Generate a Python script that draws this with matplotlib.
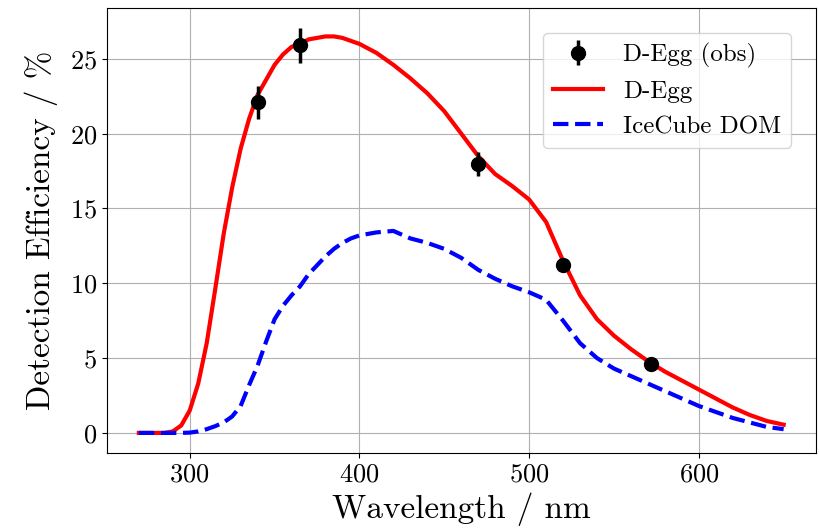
import numpy as np
import matplotlib
matplotlib.use("Agg")
import matplotlib.pyplot as plt

# Computer Modern look (matplotlib ships cmr10)
plt.rcParams['font.family'] = ['cmr10', 'DejaVu Sans']
plt.rcParams['mathtext.fontset'] = 'cm'
plt.rcParams['axes.formatter.use_mathtext'] = True

# D-Egg simulated efficiency, 5 nm steps
wl = [270, 275, 280, 285, 290, 295, 300, 305, 310, 315, 320, 325, 330, 335,
      340, 345, 350, 355, 360, 365, 370, 375, 380, 385, 390, 395, 400, 410,
      420, 430, 440, 450, 460, 470, 480, 490, 500, 510, 520, 530, 540, 550,
      560, 570, 580, 590, 600, 610, 620, 630, 640, 650]
degg = [0.0, 0.0, 0.0, 0.0, 0.1, 0.5, 1.5, 3.3, 6.0, 9.6, 13.3, 16.4, 19.0, 21.0,
        22.6, 23.6, 24.6, 25.3, 25.8, 26.0, 26.3, 26.4, 26.5, 26.5, 26.4, 26.2, 26.0, 25.4,
        24.6, 23.7, 22.7, 21.5, 20.0, 18.5, 17.3, 16.5, 15.6, 14.1, 11.5, 9.2, 7.6, 6.5,
        5.6, 4.8, 4.1, 3.5, 2.9, 2.3, 1.7, 1.2, 0.8, 0.55]
icecube = [0.0, 0.0, 0.0, 0.0, 0.0, 0.0, 0.02, 0.1, 0.25, 0.45, 0.7, 1.1, 1.8, 3.2,
           4.5, 6.1, 7.6, 8.5, 9.2, 9.8, 10.6, 11.2, 11.8, 12.3, 12.7, 13.0, 13.2, 13.4,
           13.5, 13.0, 12.7, 12.3, 11.7, 10.9, 10.3, 9.8, 9.4, 8.9, 7.5, 6.0, 5.0, 4.3,
           3.8, 3.3, 2.8, 2.3, 1.8, 1.4, 1.0, 0.7, 0.4, 0.25]

# measured points
obs_wl = [340, 365, 470, 520, 572]
obs_eff = [22.1, 25.9, 18.0, 11.2, 4.6]
obs_err = [1.1, 1.15, 0.8, 0.3, 0.2]

fig, ax = plt.subplots(figsize=(8.2, 5.3), dpi=100)

h_obs = ax.errorbar(obs_wl, obs_eff, yerr=obs_err, fmt='o', color='black', ms=10,
                    elinewidth=2.5, label='D-Egg (obs)', zorder=4)
h_degg, = ax.plot(wl, degg, color='red', lw=3, label='D-Egg', zorder=3)
h_ic, = ax.plot(wl, icecube, color='blue', lw=3, ls='--', label='IceCube DOM', zorder=3)

ax.set_xlabel('Wavelength / nm', fontsize=24)
ax.set_ylabel('Detection Efficiency / %', fontsize=24, labelpad=8)
ax.tick_params(labelsize=19)
ax.set_xticks([300, 400, 500, 600])
ax.grid(True)
ax.legend(handles=[h_obs, h_degg, h_ic], loc='upper right', fontsize=18,
          borderaxespad=1.0)

fig.subplots_adjust(left=0.13, right=0.995, top=0.985, bottom=0.145)
fig.savefig('out.png')
